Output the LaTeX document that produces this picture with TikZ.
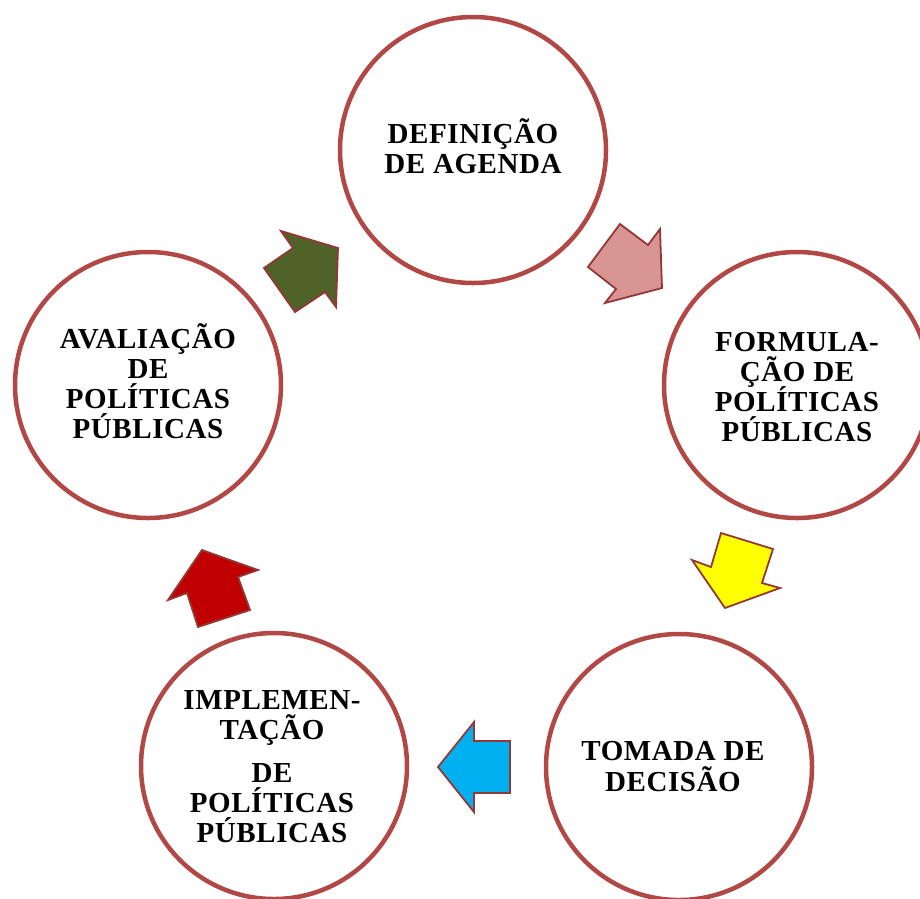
\documentclass[tikz,border=0pt]{standalone}
\usepackage{fontspec}
\setmainfont{Liberation Serif}[LetterSpace=2]
\definecolor{ring}{RGB}{178,72,70}
\definecolor{edge}{RGB}{149,55,53}
\definecolor{apink}{RGB}{217,149,148}
\definecolor{ayellow}{RGB}{255,255,0}
\definecolor{ablue}{RGB}{0,176,240}
\definecolor{ared}{RGB}{192,0,0}
\definecolor{agreen}{RGB}{79,98,40}
\begin{document}
\begin{tikzpicture}[x=1pt,y=-1pt,
  stage/.style={circle,draw=ring,line width=4.5pt,fill=white,minimum size=266pt,inner sep=0pt},
  lbl/.style={anchor=base,inner sep=0pt,font=\fontsize{29}{30}\selectfont\bfseries},
  blockarrow/.style={draw=edge,line width=1.8pt,line join=miter}]
\useasboundingbox (0,0) rectangle (920,898);
\clip (0,0) rectangle (920,898);
% stages
\node[stage] (c1) at (473,150) {};
\node[stage] (c2) at (797,385) {};
\node[stage] (c3) at (679,767) {};
\node[stage] (c4) at (274,766) {};
\node[stage] (c5) at (148,385) {};
% labels
\node[lbl] (t1a) at (473,143) {DEFINIÇÃO};
\node[lbl] (t1b) at (473,173) {DE AGENDA};
\node[lbl] (t2a) at (797,351) {FORMULA-};
\node[lbl] (t2b) at (797,381) {ÇÃO DE};
\node[lbl] (t2c) at (797,411) {POLÍTICAS};
\node[lbl] (t2d) at (797,441) {PÚBLICAS};
\node[lbl] (t3a) at (673,760) {TOMADA DE};
\node[lbl] (t3b) at (673,791) {DECISÃO};
\node[lbl] (t4a) at (272,709) {IMPLEMEN-};
\node[lbl] (t4b) at (272,739) {TAÇÃO};
\node[lbl] (t4c) at (272,782) {DE};
\node[lbl] (t4d) at (272,812) {POLÍTICAS};
\node[lbl] (t4e) at (272,842) {PÚBLICAS};
\node[lbl] (t5a) at (148,348) {AVALIAÇÃO};
\node[lbl] (t5b) at (148,378) {DE};
\node[lbl] (t5c) at (148,408) {POLÍTICAS};
\node[lbl] (t5d) at (148,438) {PÚBLICAS};
% block arrows
\draw[blockarrow,fill=apink] (620,224) -- (648,245) -- (660,229) -- (662,288) -- (605,303) -- (616,289) -- (588,267) -- cycle;
\draw[blockarrow,fill=ayellow] (721,533) -- (773,549) -- (762,583) -- (780,588) -- (725,608) -- (692,560) -- (711,567) -- cycle;
\draw[blockarrow,fill=ablue] (510,741) -- (474,741) -- (474,722) -- (438,767) -- (474,812) -- (474,793) -- (510,793) -- cycle;
\draw[blockarrow,fill=ared] (202,550) -- (258,570) -- (238,577) -- (250,610) -- (198,627) -- (187,593) -- (168,600) -- cycle;
\draw[blockarrow,fill=agreen] (281,231) -- (338,248) -- (336,307) -- (325,292) -- (295,312) -- (264,268) -- (293,248) -- cycle;
\end{tikzpicture}
\end{document}
